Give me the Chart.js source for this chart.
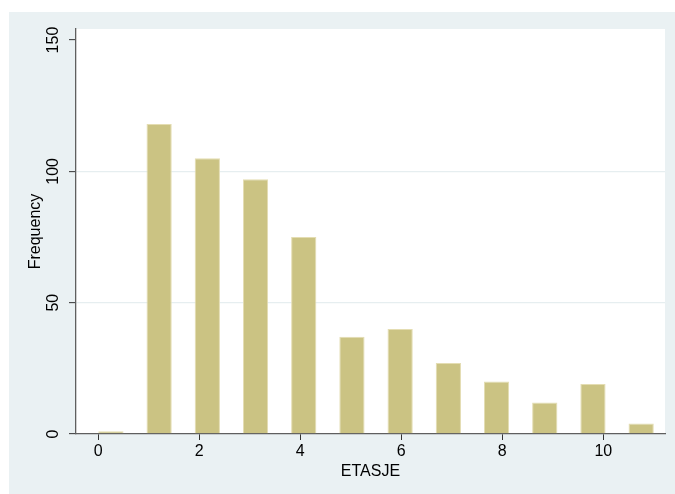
<!DOCTYPE html>
<html>
<head>
<meta charset="utf-8">
<script src="https://cdn.jsdelivr.net/npm/chart.js@4"></script>
<style>
  html, body { margin: 0; padding: 0; background: #ffffff; }
  canvas { display: block; }
</style>
</head>
<body>
<canvas id="hist" width="675" height="494"></canvas>
<script>
// Number of floors (ETASJE) and how many records fall on each
const floors = [0, 1, 2, 3, 4, 5, 6, 7, 8, 9, 10, 11];
const counts = [1, 118, 105, 97, 75, 37, 40, 27, 20, 12, 19, 4];

// Axis tick labels
const xTickValues = [0, 2, 4, 6, 8, 10];
const yTickValues = [0, 50, 100, 150];

// Histogram bins run from 0 to 11: each bar is half a unit wide and the
// bar starts step evenly so that the last one closes at 11.
const binLo = 0, binHi = 11, barUnits = 0.5;
const binStep = (binHi - binLo - barUnits) / (floors.length - 1);
const points = floors.map((f, i) => ({ x: binLo + i * binStep + barUnits / 2, y: counts[i] }));

const FONT = "'Liberation Sans', Arial, Helvetica, sans-serif";

// Paints the framed light backdrop and the white plotting region
const backdrop = {
  id: 'backdrop',
  beforeDraw(chart) {
    const { ctx, chartArea: a, width, height } = chart;
    ctx.save();
    ctx.fillStyle = '#ffffff';
    ctx.fillRect(0, 0, width, height);
    ctx.fillStyle = '#eaf1f3';
    ctx.fillRect(9, 12, width - 9, height - 12);
    ctx.fillStyle = '#ffffff';
    ctx.fillRect(a.left, a.top, a.right - a.left, a.bottom - a.top);
    ctx.restore();
  }
};

new Chart(document.getElementById('hist'), {
  type: 'bar',
  data: {
    datasets: [{
      data: points,
      backgroundColor: '#cbc383',
      borderColor: '#e4ddb2',
      borderWidth: 1,
      borderSkipped: 'bottom',
      barPercentage: barUnits / binStep,
      categoryPercentage: 1.0
    }]
  },
  options: {
    responsive: false,
    animation: false,
    devicePixelRatio: 1,
    layout: { padding: { left: 0, top: 29, right: 10, bottom: 0 } },
    plugins: { legend: { display: false }, tooltip: { enabled: false } },
    scales: {
      x: {
        type: 'linear',
        offset: false,
        min: -0.4416,
        max: 11.222,
        afterBuildTicks(scale) { scale.ticks = xTickValues.map(v => ({ value: v })); },
        afterFit(scale) { scale.height = 60; },
        grid: {
          offset: false,
          drawOnChartArea: false,
          drawTicks: true,
          tickLength: 6,
          tickColor: '#333333',
          tickWidth: 1
        },
        border: { display: true, color: '#5f5f5f', width: 1.3 },
        ticks: {
          color: '#000000',
          padding: 2,
          maxRotation: 0,
          minRotation: 0,
          font: { family: FONT, size: 16 },
          callback: v => String(v)
        },
        title: {
          display: true,
          text: 'ETASJE',
          color: '#000000',
          font: { family: FONT, size: 16 },
          padding: { top: 0, bottom: 12.7 }
        }
      },
      y: {
        type: 'linear',
        min: 0,
        max: 154.2,
        afterBuildTicks(scale) { scale.ticks = yTickValues.map(v => ({ value: v })); },
        afterFit(scale) { scale.width = 76; },
        grid: {
          color: ctx => (ctx.tick && ctx.tick.value > 0 && ctx.tick.value < 150) ? '#e6eef0' : 'rgba(0,0,0,0)',
          lineWidth: 1.3,
          drawTicks: true,
          tickLength: 7,
          tickColor: '#333333',
          tickWidth: 1
        },
        border: { display: true, color: '#5f5f5f', width: 1.3 },
        ticks: {
          color: '#000000',
          padding: 2,
          minRotation: 90,
          maxRotation: 90,
          crossAlign: 'center',
          font: { family: FONT, size: 16 },
          callback: v => String(v)
        },
        title: {
          display: true,
          text: 'Frequency',
          color: '#000000',
          font: { family: FONT, size: 16 },
          padding: { top: 26.4, bottom: 0 }
        }
      }
    }
  },
  plugins: [backdrop]
});
</script>
</body>
</html>
